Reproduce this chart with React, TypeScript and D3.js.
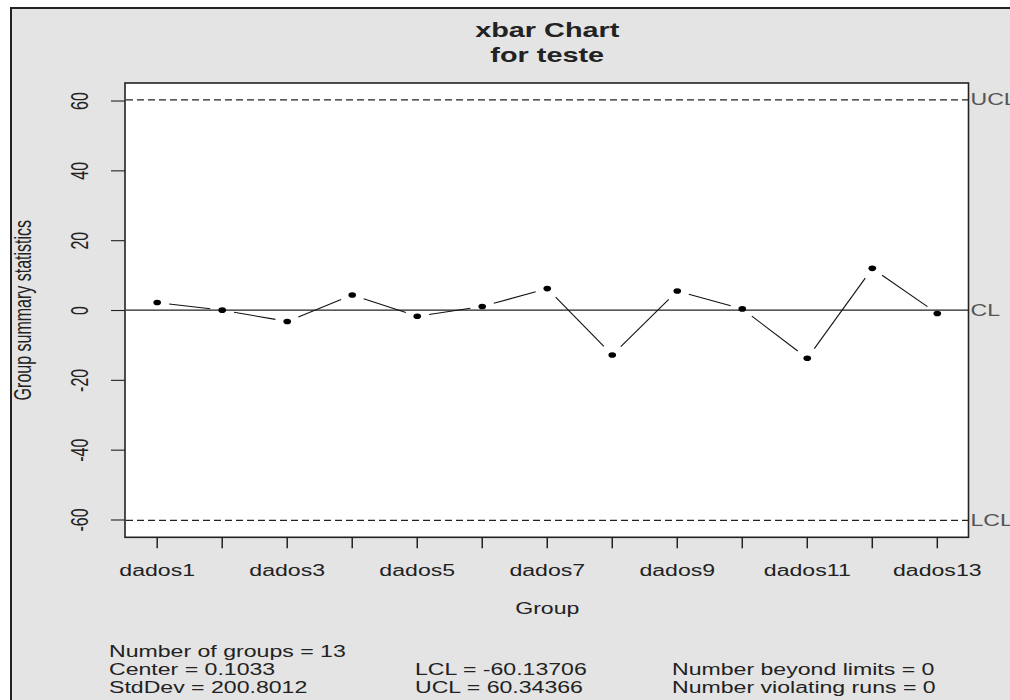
import React from "react";
import * as d3 from "d3";

// Group labels and group means for the xbar chart
const groups = [
  "dados1", "dados2", "dados3", "dados4", "dados5", "dados6", "dados7",
  "dados8", "dados9", "dados10", "dados11", "dados12", "dados13",
];
const groupMeans = [2.28, 0.1, -3.14, 4.45, -1.63, 1.14, 6.27, -12.75, 5.59, 0.46, -13.69, 12.07, -0.86];

// Control limits
const center = 0.1033;
const lcl = -60.13706;
const ucl = 60.34366;

const yTicks = [-60, -40, -20, 0, 20, 40, 60];
const limitLabels = ["UCL", "CL", "LCL"];
const limitValues = [ucl, center, lcl];

const statsCol1 = ["Number of groups = 13", "Center = 0.1033", "StdDev = 200.8012"];
const statsCol2 = ["", "LCL = -60.13706", "UCL = 60.34366"];
const statsCol3 = ["", "Number beyond limits = 0", "Number violating runs = 0"];

const W = 1010;
const H = 700;
const SX = 1.443; // horizontal stretch of the glyphs
const FONT = "'Liberation Sans', Arial, Helvetica, sans-serif";
const FS = 16;

export default function App() {
  const n = groups.length;
  const pad = (n - 1) * 0.04;
  const x = d3.scaleLinear().domain([1 - pad, n + pad]).range([126, 968.5]);
  const span = ucl - lcl;
  const y = d3.scaleLinear().domain([lcl - 0.04 * span, ucl + 0.04 * span]).range([537.3, 83]);

  const [x0, x1] = x.range();
  const [yb, yt] = y.range();

  const pts = groupMeans.map((v, i) => [x(i + 1), y(v)] as [number, number]);

  // line segments with gaps around the points (R type = "b")
  const gap = 12;
  const segs = pts.slice(0, -1).map((p, i) => {
    const q = pts[i + 1];
    const dx = q[0] - p[0];
    const dy = q[1] - p[1];
    const len = Math.hypot(dx, dy);
    const ux = dx / len;
    const uy = dy / len;
    return {
      x1: p[0] + ux * gap,
      y1: p[1] + uy * gap,
      x2: q[0] - ux * gap,
      y2: q[1] - uy * gap,
      show: len > 2 * gap,
    };
  });

  const txt = (
    s: string,
    tx: number,
    ty: number,
    anchor: "start" | "middle" | "end" = "start",
    extra: Partial<React.SVGProps<SVGTextElement>> = {},
    rot = 0
  ) => (
    <text
      key={`${s}-${tx}-${ty}`}
      transform={`translate(${tx},${ty}) scale(${SX},1)${rot ? ` rotate(${rot})` : ""}`}
      textAnchor={anchor}
      fontFamily={FONT}
      fontSize={FS}
      fill="#222"
      {...extra}
    >
      {s}
    </text>
  );

  const statRows = [657, 675, 693];

  return (
    <svg
      width={W}
      height={H}
      style={{ position: "absolute", left: 0, top: 0, display: "block" }}
    >
      <rect x={0} y={0} width={W} height={H} fill="#ffffff" />
      {/* device background with frame */}
      <rect x={11} y={8} width={W + 20} height={H + 20} fill="#e4e4e4" stroke="#222" strokeWidth={2} />

      {/* plot region */}
      <rect x={x0 - 1} y={yt} width={x1 - x0 + 1} height={yb - yt} fill="#ffffff" />

      {/* control limits */}
      <line x1={x0} x2={x1} y1={y(ucl)} y2={y(ucl)} stroke="#222" strokeWidth={1.2} strokeDasharray="7,4" />
      <line x1={x0} x2={x1} y1={y(lcl)} y2={y(lcl)} stroke="#222" strokeWidth={1.2} strokeDasharray="7,4" />
      <line x1={x0} x2={x1} y1={y(center)} y2={y(center)} stroke="#222" strokeWidth={1.2} />

      {/* series */}
      {segs.map((s, i) =>
        s.show ? (
          <line key={`s${i}`} x1={s.x1} y1={s.y1} x2={s.x2} y2={s.y2} stroke="#111" strokeWidth={1.1} />
        ) : null
      )}
      {pts.map((p, i) => (
        <ellipse key={`p${i}`} cx={p[0]} cy={p[1]} rx={3.8} ry={2.8} fill="#000" />
      ))}

      {/* plot box */}
      <rect x={x0 - 1} y={yt} width={x1 - x0 + 1} height={yb - yt} fill="none" stroke="#222" strokeWidth={1.6} />

      {/* y axis */}
      {yTicks.map((t) => (
        <g key={`yt${t}`}>
          <line x1={x0 - 15} x2={x0 - 1} y1={y(t)} y2={y(t)} stroke="#222" strokeWidth={1.1} />
          {txt(String(t), 88, y(t), "middle", {}, -90)}
        </g>
      ))}

      {/* x axis */}
      {groups.map((g, i) => (
        <g key={`xt${g}`}>
          <line x1={x(i + 1)} x2={x(i + 1)} y1={yb} y2={yb + 11} stroke="#222" strokeWidth={1.5} />
          {i % 2 === 0 ? txt(g, x(i + 1), 576, "middle") : null}
        </g>
      ))}

      {/* limit labels on the right */}
      {limitLabels.map((l, i) =>
        txt(l, x1 + 2, y(limitValues[i]) + 5.5, "start", { fill: "#555" })
      )}

      {/* titles */}
      {txt("xbar Chart", (x0 + x1) / 2, 37, "middle", { fontWeight: "bold", fontSize: 20 })}
      {txt("for teste", (x0 + x1) / 2, 62, "middle", { fontWeight: "bold", fontSize: 20 })}
      {txt("Group", (x0 + x1) / 2, 614, "middle")}
      {txt("Group summary statistics", 31, (yt + yb) / 2, "middle", {}, -90)}

      {/* summary statistics */}
      {statsCol1.map((s, i) => (s ? txt(s, 109, statRows[i]) : null))}
      {statsCol2.map((s, i) => (s ? txt(s, 415, statRows[i]) : null))}
      {statsCol3.map((s, i) => (s ? txt(s, 672, statRows[i]) : null))}
    </svg>
  );
}
